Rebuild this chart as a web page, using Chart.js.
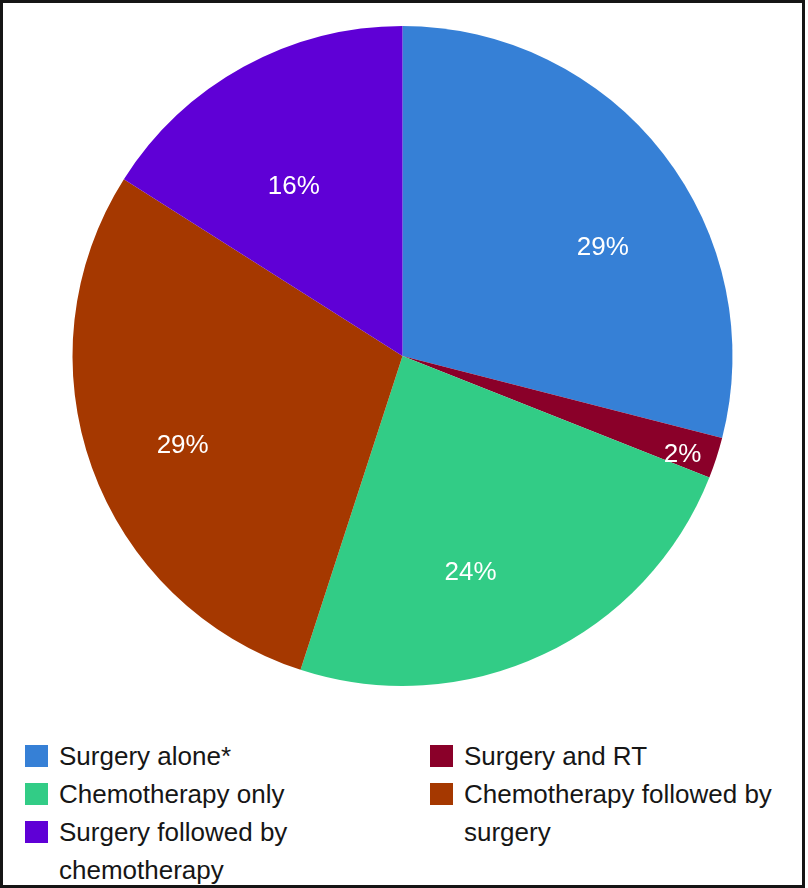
<!DOCTYPE html>
<html lang="en">
<head>
    <meta charset="UTF-8">
    <title>Treatment distribution</title>
    <style>
        body {
            margin: 0;
            padding: 0;
            background: #ffffff;
            font-family: "Liberation Sans", Arial, sans-serif;
        }
        .frame {
            position: relative;
            width: 805px;
            height: 888px;
            box-sizing: border-box;
            border: 3px solid #151515;
        }
        .chart-box {
            position: absolute;
            left: 0;
            top: 0;
            width: 799px;
            height: 712px;
        }
        .legend {
            position: absolute;
            top: 734px;
            font-size: 26px;
            line-height: 38px;
            color: #161616;
        }
        .legend-item {
            position: relative;
            padding-left: 34px;
        }
        .legend-item .swatch {
            position: absolute;
            left: 0;
            top: 8px;
            width: 23px;
            height: 22px;
        }
    </style>
</head>
<body>
    <div class="frame">
        <div class="chart-box"><canvas id="chart"></canvas></div>
        <div class="legend" id="legend-left" style="left: 22px; width: 370px;"></div>
        <div class="legend" id="legend-right" style="left: 427px; width: 350px;"></div>
    </div>

    <script src="https://cdn.jsdelivr.net/npm/chart.js"></script>
    <script>
        // data (percent of patients)
        const categories = ['Surgery alone*', 'Surgery and RT', 'Chemotherapy only', 'Chemotherapy followed by surgery', 'Surgery followed by chemotherapy'];
        const shares = [29, 2, 24, 29, 16];
        const sliceLabels = ['29%', '2%', '24%', '29%', '16%'];
        const colors = ['#3680d6', '#8a0029', '#32cc86', '#a53800', '#5f00d6'];

        // where each percent label sits: fraction of radius, and turn from mid-angle (deg)
        const labelRadius = [0.69, 0.9, 0.69, 0.72, 0.61];
        const labelTurn = [9.4, 1.4, 7.8, -2.5, -3.9];

        const sliceText = {
            id: 'sliceText',
            afterDatasetsDraw(chart) {
                const ctx = chart.ctx;
                const arcs = chart.getDatasetMeta(0).data;
                ctx.save();
                ctx.fillStyle = '#ffffff';
                ctx.font = '26px "Liberation Sans", Arial, sans-serif';
                ctx.textAlign = 'center';
                ctx.textBaseline = 'middle';
                arcs.forEach((arc, i) => {
                    const p = arc.getProps(['x', 'y', 'startAngle', 'endAngle', 'outerRadius'], true);
                    const mid = (p.startAngle + p.endAngle) / 2 + labelTurn[i] * Math.PI / 180;
                    const r = p.outerRadius * labelRadius[i];
                    ctx.fillText(sliceLabels[i], p.x + Math.cos(mid) * r, p.y + Math.sin(mid) * r);
                });
                ctx.restore();
            }
        };

        new Chart(document.getElementById('chart'), {
            type: 'pie',
            data: {
                labels: categories,
                datasets: [{
                    data: shares,
                    backgroundColor: colors,
                    borderWidth: 0
                }]
            },
            options: {
                responsive: true,
                maintainAspectRatio: false,
                animation: false,
                layout: { padding: { top: 23, bottom: 29, left: 0, right: 0 } },
                plugins: {
                    legend: { display: false },
                    tooltip: { enabled: false }
                }
            },
            plugins: [sliceText]
        });

        // two column legend: left column gets items 0,2,4 and right gets 1,3
        categories.forEach((name, i) => {
            const item = document.createElement('div');
            item.className = 'legend-item';
            const sw = document.createElement('span');
            sw.className = 'swatch';
            sw.style.background = colors[i];
            item.appendChild(sw);
            item.appendChild(document.createTextNode(name));
            document.getElementById(i % 2 === 0 ? 'legend-left' : 'legend-right').appendChild(item);
        });
    </script>
</body>
</html>
